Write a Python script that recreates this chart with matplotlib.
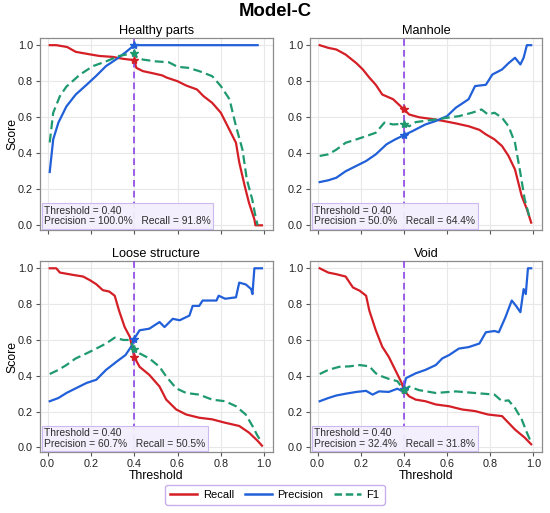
import matplotlib
matplotlib.use("Agg")
import matplotlib.pyplot as plt
from matplotlib.lines import Line2D

plt.rcParams['font.family'] = ['Liberation Sans', 'DejaVu Sans']

classes = ["Healthy parts", "Manhole", "Loose structure", "Void"]
best_threshold = 0.40
best_precision = [1.000, 0.500, 0.607, 0.324]
best_recall = [0.918, 0.644, 0.505, 0.318]
best_f1 = [0.957, 0.563, 0.551, 0.321]

# Healthy parts
hp_rec_x = [0.01, 0.04, 0.09, 0.13, 0.20, 0.24, 0.30, 0.35, 0.40, 0.41, 0.44, 0.49, 0.53, 0.55, 0.60, 0.64, 0.69, 0.72, 0.76, 0.80, 0.84, 0.87, 0.885, 0.91, 0.93, 0.955, 0.96, 0.99]
hp_rec_y = [1.00, 1.00, 0.99, 0.963, 0.948, 0.94, 0.935, 0.924, 0.917, 0.874, 0.856, 0.843, 0.832, 0.82, 0.80, 0.776, 0.754, 0.717, 0.68, 0.625, 0.53, 0.458, 0.35, 0.22, 0.125, 0.033, 0.0, 0.0]
hp_pre_x = [0.01, 0.026, 0.05, 0.087, 0.13, 0.18, 0.225, 0.27, 0.32, 0.36, 0.40, 0.97]
hp_pre_y = [0.296, 0.477, 0.57, 0.66, 0.726, 0.78, 0.83, 0.884, 0.924, 0.96, 1.00, 1.00]
hp_f1_x = [0.01, 0.026, 0.057, 0.087, 0.15, 0.21, 0.27, 0.33, 0.40, 0.41, 0.44, 0.50, 0.56, 0.60, 0.65, 0.70, 0.76, 0.80, 0.84, 0.87, 0.90, 0.92, 0.945, 0.96, 0.97]
hp_f1_y = [0.46, 0.625, 0.717, 0.77, 0.837, 0.884, 0.91, 0.94, 0.957, 0.935, 0.92, 0.91, 0.905, 0.88, 0.874, 0.856, 0.828, 0.773, 0.70, 0.55, 0.42, 0.255, 0.144, 0.05, 0.0]

# Manhole
mh_rec_x = [0.01, 0.05, 0.087, 0.13, 0.18, 0.21, 0.24, 0.27, 0.30, 0.35, 0.40, 0.425, 0.47, 0.53, 0.58, 0.64, 0.70, 0.75, 0.78, 0.82, 0.855, 0.885, 0.915, 0.946, 0.97, 0.99]
mh_rec_y = [1.00, 0.985, 0.976, 0.948, 0.90, 0.865, 0.82, 0.78, 0.726, 0.70, 0.644, 0.615, 0.60, 0.59, 0.58, 0.566, 0.55, 0.53, 0.505, 0.477, 0.44, 0.385, 0.31, 0.163, 0.09, 0.015]
mh_pre_x = [0.01, 0.05, 0.087, 0.13, 0.18, 0.225, 0.27, 0.32, 0.36, 0.40, 0.44, 0.50, 0.55, 0.60, 0.64, 0.70, 0.73, 0.78, 0.81, 0.855, 0.885, 0.915, 0.94, 0.955, 0.97, 0.99]
mh_pre_y = [0.24, 0.25, 0.264, 0.30, 0.33, 0.357, 0.394, 0.45, 0.477, 0.50, 0.523, 0.56, 0.58, 0.606, 0.652, 0.70, 0.773, 0.78, 0.837, 0.865, 0.90, 0.93, 0.893, 0.93, 1.00, 1.00]
mh_f1_x = [0.01, 0.05, 0.087, 0.13, 0.18, 0.225, 0.27, 0.31, 0.35, 0.40, 0.425, 0.455, 0.55, 0.60, 0.655, 0.716, 0.76, 0.79, 0.82, 0.855, 0.885, 0.915, 0.94, 0.96, 0.985]
mh_f1_y = [0.385, 0.394, 0.42, 0.458, 0.477, 0.495, 0.514, 0.57, 0.56, 0.563, 0.55, 0.573, 0.588, 0.597, 0.606, 0.625, 0.643, 0.615, 0.625, 0.597, 0.55, 0.458, 0.29, 0.144, 0.033]

# Loose structure
ls_rec_x = [0.01, 0.04, 0.057, 0.118, 0.164, 0.195, 0.225, 0.255, 0.285, 0.31, 0.33, 0.356, 0.38, 0.40, 0.425, 0.47, 0.517, 0.548, 0.594, 0.64, 0.70, 0.76, 0.82, 0.885, 0.93, 0.97, 0.99]
ls_rec_y = [1.00, 1.00, 0.976, 0.963, 0.954, 0.934, 0.911, 0.878, 0.87, 0.847, 0.764, 0.672, 0.617, 0.505, 0.45, 0.405, 0.34, 0.267, 0.212, 0.184, 0.166, 0.157, 0.138, 0.12, 0.083, 0.037, 0.01]
ls_pre_x = [0.01, 0.05, 0.087, 0.13, 0.18, 0.225, 0.27, 0.32, 0.36, 0.39, 0.40, 0.425, 0.47, 0.517, 0.54, 0.578, 0.61, 0.655, 0.67, 0.70, 0.716, 0.78, 0.79, 0.82, 0.87, 0.885, 0.915, 0.94, 0.946, 0.955, 0.99]
ls_pre_y = [0.258, 0.276, 0.304, 0.33, 0.36, 0.378, 0.433, 0.48, 0.516, 0.57, 0.607, 0.654, 0.663, 0.70, 0.672, 0.718, 0.71, 0.736, 0.79, 0.79, 0.82, 0.82, 0.847, 0.83, 0.838, 0.92, 0.91, 0.884, 0.856, 1.00, 1.00]
ls_f1_x = [0.01, 0.05, 0.087, 0.13, 0.18, 0.225, 0.27, 0.31, 0.35, 0.38, 0.40, 0.425, 0.47, 0.517, 0.548, 0.594, 0.64, 0.70, 0.76, 0.82, 0.87, 0.915, 0.946, 0.97, 0.99]
ls_f1_y = [0.41, 0.433, 0.46, 0.497, 0.525, 0.552, 0.58, 0.613, 0.60, 0.60, 0.551, 0.525, 0.497, 0.45, 0.396, 0.33, 0.304, 0.295, 0.267, 0.258, 0.23, 0.184, 0.12, 0.064, 0.028]

# Void
vd_rec_x = [0.01, 0.05, 0.087, 0.13, 0.164, 0.195, 0.225, 0.24, 0.27, 0.30, 0.33, 0.36, 0.39, 0.40, 0.425, 0.455, 0.50, 0.548, 0.61, 0.67, 0.73, 0.79, 0.855, 0.915, 0.96, 0.99]
vd_rec_y = [1.00, 0.976, 0.967, 0.954, 0.893, 0.875, 0.847, 0.764, 0.654, 0.562, 0.506, 0.433, 0.36, 0.318, 0.285, 0.267, 0.258, 0.24, 0.23, 0.212, 0.203, 0.184, 0.175, 0.10, 0.055, 0.018]
vd_pre_x = [0.01, 0.05, 0.087, 0.13, 0.18, 0.225, 0.255, 0.285, 0.33, 0.37, 0.395, 0.41, 0.455, 0.50, 0.548, 0.578, 0.61, 0.655, 0.70, 0.75, 0.78, 0.82, 0.84, 0.87, 0.90, 0.92, 0.94, 0.955, 0.965, 0.975, 0.99]
vd_pre_y = [0.258, 0.276, 0.29, 0.30, 0.31, 0.316, 0.295, 0.313, 0.31, 0.328, 0.313, 0.387, 0.414, 0.433, 0.46, 0.497, 0.516, 0.552, 0.56, 0.58, 0.643, 0.65, 0.643, 0.725, 0.82, 0.79, 0.755, 0.884, 0.856, 1.00, 1.00]
vd_f1_x = [0.01, 0.05, 0.10, 0.15, 0.195, 0.24, 0.27, 0.30, 0.33, 0.37, 0.40, 0.425, 0.47, 0.548, 0.64, 0.73, 0.82, 0.855, 0.885, 0.915, 0.946, 0.97, 0.99]
vd_f1_y = [0.41, 0.433, 0.45, 0.453, 0.46, 0.453, 0.414, 0.396, 0.383, 0.37, 0.321, 0.34, 0.32, 0.304, 0.313, 0.304, 0.295, 0.258, 0.263, 0.22, 0.157, 0.083, 0.028]

curves = [
    (hp_rec_x, hp_rec_y, hp_pre_x, hp_pre_y, hp_f1_x, hp_f1_y),
    (mh_rec_x, mh_rec_y, mh_pre_x, mh_pre_y, mh_f1_x, mh_f1_y),
    (ls_rec_x, ls_rec_y, ls_pre_x, ls_pre_y, ls_f1_x, ls_f1_y),
    (vd_rec_x, vd_rec_y, vd_pre_x, vd_pre_y, vd_f1_x, vd_f1_y),
]

RED = "#d41f26"
BLUE = "#2160d8"
GREEN = "#1f9a6e"
PURPLE = "#8a45e6"

fig = plt.figure(figsize=(5.5, 5.13), dpi=100)
positions = [
    [0.0727, 0.552, 0.4233, 0.374],
    [0.5636, 0.552, 0.4218, 0.374],
    [0.0727, 0.119, 0.4233, 0.372],
    [0.5636, 0.119, 0.4218, 0.372],
]

for i, name in enumerate(classes):
    ax = fig.add_axes(positions[i])
    rx, ry, px, py, fx, fy = curves[i]
    ax.grid(True, color="#e8e8e8", linewidth=0.8)
    ax.set_axisbelow(True)
    ax.plot(rx, ry, color=RED, lw=1.6, zorder=3)
    ax.plot(px, py, color=BLUE, lw=1.6, zorder=3)
    ax.plot(fx, fy, color=GREEN, lw=1.6, ls=(0, (4, 2)), zorder=3)
    ax.axvline(best_threshold, color=PURPLE, lw=1.2, ls=(0, (4, 2.5)), zorder=4)
    ax.plot([best_threshold], [best_recall[i]], marker="*", color=RED, ms=6, zorder=5)
    ax.plot([best_threshold], [best_precision[i]], marker="*", color=BLUE, ms=6, zorder=5)
    ax.plot([best_threshold], [best_f1[i]], marker="*", color=GREEN, ms=6, zorder=5)
    ax.set_xlim(-0.035, 1.04)
    ax.set_ylim(-0.025, 1.04)
    ax.set_xticks([0.0, 0.2, 0.4, 0.6, 0.8, 1.0])
    ax.set_yticks([0.0, 0.2, 0.4, 0.6, 0.8, 1.0])
    ax.set_yticklabels(["0.0", "0.2", "0.4", "0.6", "0.8", "1.0"])
    for s in ax.spines.values():
        s.set_color("#8c8c8c")
        s.set_linewidth(0.9)
    ax.tick_params(length=3, width=0.8, color="#555555", labelsize=7.8, pad=2,
                   labelcolor="#222222")
    if i < 2:
        ax.tick_params(labelbottom=False)
    else:
        ax.set_xticklabels(["0.0", "0.2", "0.4", "0.6", "0.8", "1.0"])
        ax.set_xlabel("Threshold", fontsize=8.8, labelpad=1)
    if i % 2 == 0:
        ax.set_ylabel("Score", fontsize=8.8, labelpad=0)
    ax.set_title(name, fontsize=9.2, pad=3)
    txt = "Threshold = %.2f\nPrecision = %.1f%%   Recall = %.1f%%" % (
        best_threshold, best_precision[i] * 100, best_recall[i] * 100)
    ax.text(0.018, 0.018, txt, transform=ax.transAxes, fontsize=7.4,
            va="bottom", ha="left", color="#2e2e2e", linespacing=1.05, zorder=6,
            bbox=dict(boxstyle="square,pad=0.25", facecolor="#f3effc",
                      edgecolor="#c9b6ef", linewidth=0.8, alpha=0.95))

fig.suptitle("Model-C", fontsize=13.3, fontweight="bold", y=0.995, va="top")

handles = [Line2D([0], [0], color=RED, lw=1.8),
           Line2D([0], [0], color=BLUE, lw=1.8),
           Line2D([0], [0], color=GREEN, lw=1.8, ls=(0, (3, 1.5)))]
leg = fig.legend(handles, ["Recall", "Precision", "F1"], loc="center",
                 bbox_to_anchor=(0.5, 0.036), ncol=3, fontsize=8,
                 frameon=True, fancybox=True, handlelength=2.4,
                 columnspacing=1.0, handletextpad=0.5, borderpad=0.45)
leg.get_frame().set_edgecolor("#b89be6")
leg.get_frame().set_linewidth(1.0)

fig.savefig("out.png", dpi=100)
